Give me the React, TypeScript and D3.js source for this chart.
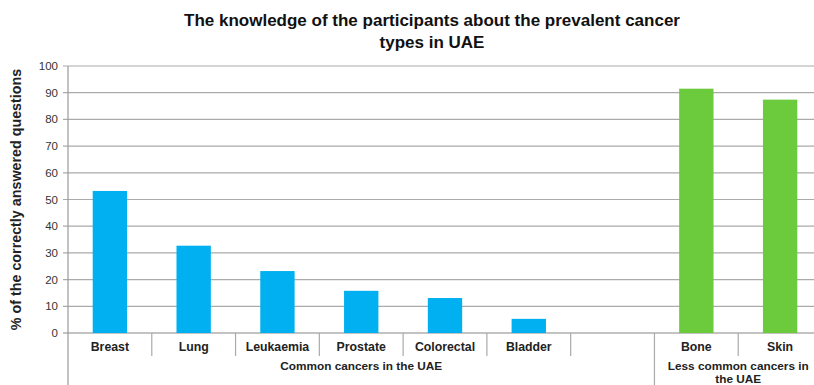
import React from 'react'
import * as d3 from 'd3'

const categories = ['Breast', 'Lung', 'Leukaemia', 'Prostate', 'Colorectal', 'Bladder', '', 'Bone', 'Skin']
const values = [53.2, 32.7, 23.2, 15.8, 13.1, 5.3, null, 91.5, 87.4]
const groups = ['common', 'common', 'common', 'common', 'common', 'common', 'common', 'less', 'less']
const groupLabels = [
  { key: 'common', lines: ['Common cancers in the UAE'] },
  { key: 'less', lines: ['Less common cancers in', 'the UAE'] }
]
const yTicks = [0, 10, 20, 30, 40, 50, 60, 70, 80, 90, 100]
const titleLines = ['The knowledge of the participants about the prevalent cancer', 'types in UAE']
const yTitle = '% of the correctly answered questions'

const colors: Record<string, string> = { common: '#00B0F0', less: '#6CCB3C' }

export default function App() {
  const width = 814
  const height = 385
  const left = 68
  const right = 822
  const top = 66
  const bottom = 333

  const x = d3.scaleBand<string>().domain(categories.map((c, i) => i + '')).range([left, right])
  const y = d3.scaleLinear().domain([0, 100]).range([bottom, top])
  const barW = x.bandwidth() * 0.41
  const font = 'Liberation Sans, Arial, sans-serif'

  // group extents
  const groupSpans = groupLabels.map(g => {
    const idx = groups.map((gg, i) => (gg === g.key ? i : -1)).filter(i => i >= 0)
    const x0 = x(idx[0] + '')!
    const x1 = x(idx[idx.length - 1] + '')! + x.bandwidth()
    return { ...g, x0, x1 }
  })

  return (
    <div style={{ position: 'absolute', left: 0, top: 0 }}>
      <svg width={width} height={height} style={{ display: 'block', background: '#fff' }} fontFamily={font}>
        {titleLines.map((t, i) => (
          <text key={i} x={432} y={26 + i * 22} textAnchor="middle" fontSize={17} fontWeight="bold" fill="#111">{t}</text>
        ))}
        <text transform={`translate(21, ${(top + bottom) / 2}) rotate(-90)`} textAnchor="middle" fontSize={14.3} fontWeight="bold" fill="#222">{yTitle}</text>

        {/* gridlines + y ticks */}
        {yTicks.map(t => (
          <g key={t}>
            <line x1={left - 5} x2={right} y1={y(t)} y2={y(t)} stroke={t === 0 ? '#888' : '#aaa'} strokeWidth={1.2} />
            <text x={left - 10} y={y(t) + 4} textAnchor="end" fontSize={11.5} fill="#333">{t}</text>
          </g>
        ))}
        <line x1={left} x2={left} y1={top} y2={height} stroke="#999" strokeWidth={1.2} />

        {/* bars */}
        {categories.map((c, i) => values[i] == null ? null : (
          <rect key={i}
            x={x(i + '')! + (x.bandwidth() - barW) / 2}
            y={y(values[i] as number)}
            width={barW}
            height={bottom - y(values[i] as number)}
            fill={colors[groups[i]]} />
        ))}

        {/* category dividers and labels */}
        {categories.map((c, i) => {
          const x0 = x(i + '')!
          const isGroupStart = i > 0 && groups[i] !== groups[i - 1]
          return (
            <g key={'c' + i}>
              {i > 0 && <line x1={x0} x2={x0} y1={bottom} y2={isGroupStart ? height : bottom + 23} stroke="#aaa" strokeWidth={1.2} />}
              <text x={x0 + x.bandwidth() / 2} y={bottom + 18} textAnchor="middle" fontSize={12.3} fontWeight="bold" fill="#222">{c}</text>
            </g>
          )
        })}

        {/* group labels */}
        {groupSpans.map(g => g.lines.map((l, j) => (
          <text key={g.key + j} x={(g.x0 + g.x1) / 2} y={bottom + 37 + j * 12.5} textAnchor="middle" fontSize={11.8} fontWeight="bold" fill="#222">{l}</text>
        )))}
      </svg>
    </div>
  )
}
